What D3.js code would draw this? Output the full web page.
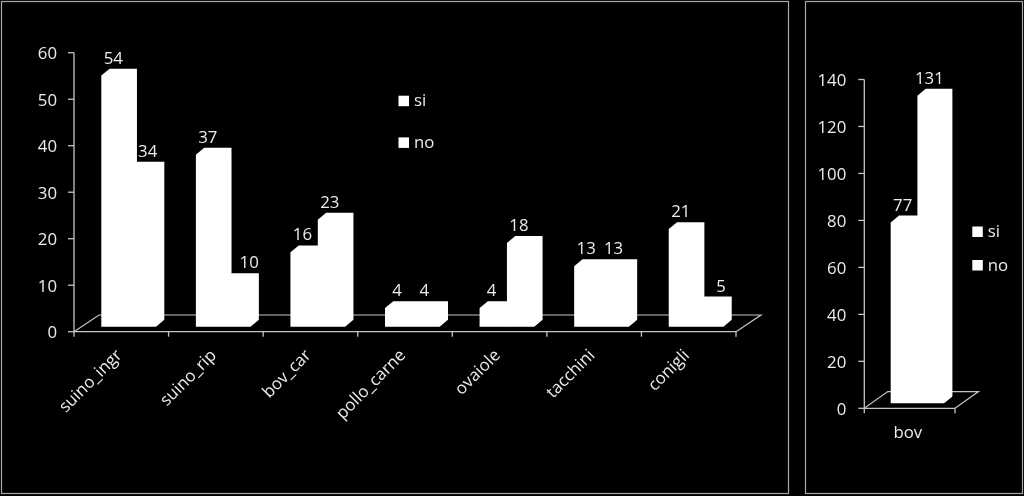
<!DOCTYPE html>
<html>
<head>
<meta charset="utf-8">
<style>
html,body{margin:0;padding:0;background:#000;}
svg{display:block;filter:blur(0.35px);}
text{font-family:"Open Sans",Lato,sans-serif;fill:#ececec;}
</style>
<script src="https://cdn.jsdelivr.net/npm/d3@7/dist/d3.min.js"></script>
</head>
<body>
<svg id="c" width="1024" height="496"></svg>
<script>
const categories = ["suino_ingr","suino_rip","bov_car","pollo_carne","ovaiole","tacchini","conigli"];
const si = [54,37,16,4,4,13,21];
const no = [34,10,23,4,18,13,5];
const yTicksLeft = [0,10,20,30,40,50,60];
const catRight = ["bov"];
const siRight = [77];
const noRight = [131];
const yTicksRight = [0,20,40,60,80,100,120,140];
const seriesNames = ["si","no"];
// manual offsets of the "no" value labels, as placed in the original
const noLabelShift = {suino_ingr:7, suino_rip:14, conigli:13};

const svg = d3.select("#c");
const AXIS = "#c4c4c4", FS = 16.8;

svg.append("rect").attr("width",1024).attr("height",496).attr("fill","#000");
[[1.5,1.5,787,492],[805.5,1.5,217,492]].forEach(p=>{
  svg.append("rect").attr("x",p[0]).attr("y",p[1]).attr("width",p[2]).attr("height",p[3])
    .attr("fill","#000").attr("stroke","#a8a8a8").attr("stroke-width",1.2);
});

function chart(o){
  const g = svg.append("g");
  const x = d3.scaleBand().domain(o.cats).range([o.x0,o.x1]);
  const y = d3.scaleLinear().domain([0,o.max]).range([o.y0,o.yTop]);
  const line = (a,b,c,d)=>g.append("line").attr("x1",a).attr("y1",b).attr("x2",c).attr("y2",d)
      .attr("stroke",AXIS).attr("stroke-width",1.3);
  const dX=o.floorDx, dY=16.7;
  g.append("path").attr("fill","none").attr("stroke",AXIS).attr("stroke-width",1.2)
    .attr("d",d3.line()([[o.x0,o.y0],[o.x0+dX,o.y0-dY],[o.x1+dX,o.y0-dY],[o.x1,o.y0]]));
  line(o.x0,o.y0,o.x1,o.y0);
  line(o.x0,o.y0,o.x0,o.yTop);
  o.ticks.forEach(t=>{
    line(o.x0-6,y(t),o.x0,y(t));
    g.append("text").attr("x",o.x0-o.tickGap).attr("y",y(t)+6.4).attr("text-anchor","end")
      .attr("font-size",FS).text(t);
  });
  [o.x0].concat(o.cats.map(c=>x(c)+x.bandwidth())).forEach(v=>line(v,o.y0,v,o.y0+5));
  const bw=o.barW, ddx=8.3, ddy=6.9, base=o.y0-5;
  o.cats.forEach((c,i)=>{
    const left=x(c)+o.inset;
    [[o.si[i],0],[o.no[i],1]].forEach(([v,k])=>{
      const xl=left+k*bw, h=y(0)-y(v), top=base-h;
      g.append("path").attr("fill","#fff")
       .attr("d",d3.line()([[xl,base],[xl,top],[xl+ddx,top-ddy],[xl+bw+ddx,top-ddy],[xl+bw+ddx,base-ddy],[xl+bw,base]])+"Z");
    });
    [[o.si[i],0,0],[o.no[i],1,o.shift[c]||0]].forEach(([v,k,s])=>{
      const xl=left+k*bw, h=y(0)-y(v), top=base-h;
      g.append("text").attr("x",xl+12+s).attr("y",top-ddy-5).attr("text-anchor","middle")
        .attr("font-size",FS).text(v);
    });
    if(o.rotate){
      const cx=x(c)+x.bandwidth()/2+1.5, cy=o.y0+24.5;
      g.append("text").attr("transform",`translate(${cx},${cy}) rotate(-45)`)
        .attr("text-anchor","end").attr("font-size",FS).text(c);
    } else {
      g.append("text").attr("x",x(c)+x.bandwidth()/2-1.8).attr("y",o.y0+30)
        .attr("text-anchor","middle").attr("font-size",FS).text(c);
    }
  });
  seriesNames.forEach((n,i)=>{
    const ly=o.legY+i*o.legStep;
    g.append("rect").attr("x",o.legX).attr("y",ly).attr("width",10.5).attr("height",10.5).attr("fill","#fff");
    g.append("text").attr("x",o.legX+15.5).attr("y",ly+10.5).attr("font-size",FS).text(n);
  });
}

chart({cats:categories,si:si,no:no,ticks:yTicksLeft,max:60,x0:74,x1:736,y0:331.7,yTop:52.7,tickGap:17,
  floorDx:25,barW:27.35,inset:27.3,rotate:true,shift:noLabelShift,legX:398.5,legY:95.7,legStep:41.7});
chart({cats:catRight,si:siRight,no:noRight,ticks:yTicksRight,max:140,x0:864.3,x1:955,y0:408.3,yTop:79.5,tickGap:18,
  floorDx:23.5,barW:26.7,inset:26.4,rotate:false,shift:{},legX:972.3,legY:226.5,legStep:33.5});
</script>
</body>
</html>
